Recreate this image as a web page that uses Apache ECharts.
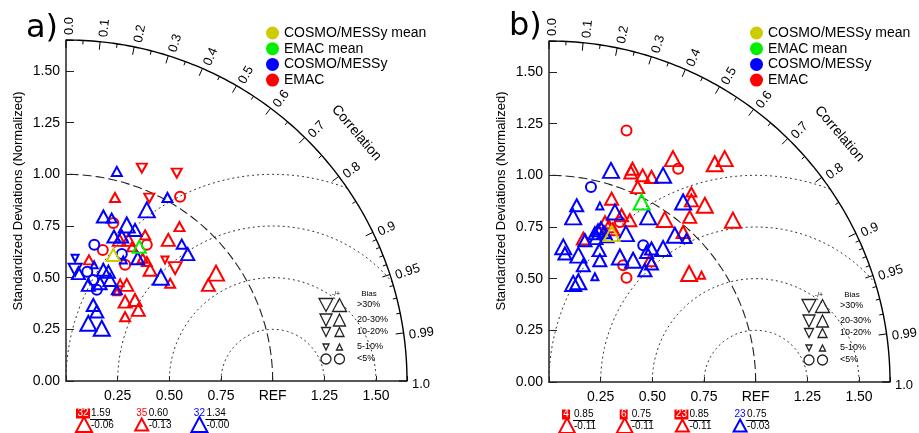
<!DOCTYPE html>
<html>
<head>
<meta charset="utf-8">
<script src="https://cdn.jsdelivr.net/npm/echarts@6/dist/echarts.min.js"></script>
<style>
  html, body { margin: 0; background: #fff; }
  #main { width: 919px; height: 433px; }
</style>
</head>
<body>
<div id="main"></div>
<script>
// Taylor diagram frame
var STD_MAX = 1.65;
var CORR_MAJOR = [0, 0.1, 0.2, 0.3, 0.4, 0.5, 0.6, 0.7, 0.8, 0.9, 0.95, 0.99, 1.0];
var CORR_MINOR = [0.05, 0.15, 0.25, 0.35, 0.45, 0.55, 0.65, 0.75, 0.85, 0.91, 0.92, 0.93, 0.94, 0.96, 0.97, 0.98];
var RMS_RADII = [0.25, 0.5, 0.75, 1.0];
var LEGEND_NAMES = ['COSMO/MESSy mean', 'EMAC mean', 'COSMO/MESSy', 'EMAC'];
var BIAS_LABELS = ['>30%', '20-30%', '10-20%', '5-10%', '<5%'];

// points: [std*cor, std*sin, bias class]  (sign = direction, 1..4 = 5-10% .. >30%, 0 = <5%)
var emacA = [
  [0.367, 1.030, -2], [0.536, 1.006, -2], [0.237, 0.888, 2], [0.403, 0.885, -2], [0.552, 0.891, 0],
  [0.229, 0.764, 0], [0.549, 0.747, 2], [0.383, 0.707, 2], [0.258, 0.683, 3], [0.302, 0.683, 3],
  [0.495, 0.683, 3], [0.178, 0.634, 0], [0.391, 0.659, 0], [0.320, 0.649, 2], [0.286, 0.562, 0],
  [0.111, 0.586, 2], [0.371, 0.594, 2], [0.479, 0.586, -1], [0.528, 0.546, -3], [0.407, 0.538, 3],
  [0.504, 0.473, 2], [0.726, 0.522, 4], [0.689, 0.465, 3], [0.262, 0.475, 1], [0.294, 0.465, 3],
  [0.246, 0.432, 1], [0.286, 0.384, 3], [0.334, 0.392, 3], [0.350, 0.344, 3], [0.286, 0.311, 2],
  [0.391, 0.578, 2]
];
var cosmoA = [
  [0.246, 1.014, 2], [0.491, 0.888, 2], [0.391, 0.828, 4], [0.181, 0.796, 3], [0.221, 0.788, 2],
  [0.294, 0.755, 4], [0.334, 0.731, 3], [0.232, 0.699, 3], [0.270, 0.699, 3], [0.137, 0.659, 0],
  [0.270, 0.614, 0], [0.277, 0.586, 1], [0.347, 0.594, 3], [0.560, 0.662, 2], [0.589, 0.614, 3],
  [0.044, 0.594, -1], [0.044, 0.538, -3], [0.060, 0.522, 3], [0.103, 0.529, 0], [0.136, 0.562, 1],
  [0.181, 0.538, 3], [0.205, 0.529, 3], [0.108, 0.465, 3], [0.132, 0.489, 0], [0.149, 0.441, 0],
  [0.165, 0.473, 3], [0.213, 0.489, 3], [0.246, 0.441, 2], [0.459, 0.502, 4], [0.132, 0.368, 3],
  [0.149, 0.336, 3], [0.108, 0.279, 4], [0.173, 0.255, 4]
];
var cosmoMeanA = [[0.229, 0.610, 3]];
var emacMeanA = [[0.355, 0.650, 3]];

var emacB = [
  [0.375, 1.217, 0], [0.404, 1.032, 3], [0.396, 1.014, 3], [0.453, 1.000, 3], [0.496, 0.992, 3],
  [0.600, 1.081, 4], [0.625, 1.032, 0], [0.802, 1.056, 4], [0.850, 1.081, 4], [0.429, 0.943, 3],
  [0.303, 0.887, 3], [0.689, 0.919, 2], [0.689, 0.879, 3], [0.754, 0.855, 4], [0.351, 0.807, 3],
  [0.391, 0.783, 3], [0.560, 0.786, 4], [0.681, 0.799, 3], [0.890, 0.783, 4], [0.271, 0.773, 3],
  [0.290, 0.754, 3], [0.309, 0.739, 3], [0.166, 0.694, 3], [0.649, 0.726, 3], [0.488, 0.589, 3],
  [0.359, 0.565, 0], [0.375, 0.504, 0], [0.678, 0.525, 4], [0.738, 0.517, 1], [0.343, 0.774, 0]
];
var cosmoB = [
  [0.300, 1.024, 4], [0.552, 1.000, 4], [0.203, 0.943, 0], [0.134, 0.855, 3], [0.246, 0.852, 1],
  [0.319, 0.823, 4], [0.649, 0.871, 4], [0.117, 0.799, 4], [0.480, 0.799, 4], [0.222, 0.720, 3],
  [0.237, 0.734, 3], [0.251, 0.744, 3], [0.266, 0.725, 3], [0.280, 0.705, 3], [0.227, 0.696, 3],
  [0.174, 0.686, 3], [0.372, 0.718, 4], [0.609, 0.710, 4], [0.665, 0.694, 2], [0.069, 0.654, 4],
  [0.077, 0.622, 3], [0.142, 0.614, 4], [0.243, 0.638, 3], [0.246, 0.589, 3], [0.343, 0.605, 4],
  [0.407, 0.589, 4], [0.456, 0.662, 0], [0.472, 0.629, 3], [0.496, 0.646, 3], [0.552, 0.646, 4],
  [0.496, 0.573, 3], [0.464, 0.541, 3], [0.166, 0.565, 3], [0.222, 0.509, 1], [0.117, 0.477, 4],
  [0.142, 0.485, 4]
];
var cosmoMeanB = [[0.303, 0.718, 4]];
var emacMeanB = [[0.448, 0.871, 4]];

// points off the diagram: [case, boxed, model, std, cor, bias class]
var outA = [['32', true, 'EMAC', '1.59', '-0.06', 4], ['35', false, 'EMAC', '0.60', '-0.13', 3], ['32', false, 'COSMO/MESSy', '1.34', '-0.00', 4]];
var outB = [['4', true, 'EMAC', '0.85', '-0.11', 4], ['6', true, 'EMAC', '0.75', '-0.11', 4], ['23', true, 'EMAC', '0.85', '-0.11', 3], ['23', false, 'COSMO/MESSy', '0.75', '-0.03', 3]];

var COLORS = {'COSMO/MESSy mean': '#cccc00', 'EMAC mean': '#00ee00', 'COSMO/MESSy': '#0000ff', 'EMAC': '#ff0000'};
var SIZES = {1: [7, 7], 2: [10, 9], 3: [13, 12], 4: [16, 15]};
var FONT = 'Liberation Sans';

var chart = echarts.init(document.getElementById('main'));

function item(p) {
  var m = Math.abs(p[2]);
  return {
    value: [p[0], p[1]],
    symbol: m === 0 ? 'circle' : 'triangle',
    symbolSize: m === 0 ? 10 : SIZES[m],
    symbolRotate: p[2] < 0 ? 180 : 0
  };
}

function scatter(name, data, gi) {
  return {
    type: 'scatter', name: name, xAxisIndex: gi, yAxisIndex: gi, z: 3,
    data: data.map(item),
    itemStyle: {color: 'rgba(0,0,0,0)', borderColor: COLORS[name], borderWidth: 2, opacity: 1},
    emphasis: {disabled: true}
  };
}

function triPts(cx, cy, w, h, down) {
  if (down) return [[cx - w / 2, cy - h / 2], [cx + w / 2, cy - h / 2], [cx, cy + h / 2]];
  return [[cx, cy - h / 2], [cx + w / 2, cy + h / 2], [cx - w / 2, cy + h / 2]];
}

function frame(gi, outliers) {
  return {
    type: 'custom', xAxisIndex: gi, yAxisIndex: gi, data: [[0, 0]], clip: false, silent: true, z: 1,
    renderItem: function (params, api) {
      var O = api.coord([0, 0]);
      var unit = api.coord([1, 0])[0] - O[0];
      var R = STD_MAX * unit;
      var kids = [];

      function arc(cx, r, a0, a1) {
        var p = [];
        for (var i = 0; i <= 120; i++) {
          var a = a0 + (a1 - a0) * i / 120;
          p.push(api.coord([cx + r * Math.cos(a), r * Math.sin(a)]));
        }
        return p;
      }
      function poly(points, width, dash, color) {
        kids.push({type: 'polyline', shape: {points: points},
          style: {stroke: color || '#000', fill: null, lineWidth: width, lineDash: dash || null}});
      }
      function text(str, x, y, size, opt) {
        opt = opt || {};
        kids.push({type: 'text', x: x, y: y, rotation: opt.rot || 0,
          style: {text: str, fill: opt.color || '#000', font: (opt.weight || 'normal') + ' ' + size + 'px ' + FONT,
            align: opt.align || 'left', verticalAlign: opt.va || 'middle'}});
      }

      // rms circles round REF
      RMS_RADII.forEach(function (rho) {
        var c = (STD_MAX * STD_MAX - 1 - rho * rho) / (2 * rho);
        var a0 = c >= 1 ? 0 : Math.acos(c);
        poly(arc(1, rho, a0, Math.PI), 1, [2, 3], '#333');
      });
      // std = 1
      poly(arc(0, 1, 0, Math.PI / 2), 1.1, [9, 4], '#222');
      // outer correlation arc
      poly(arc(0, STD_MAX, 0, Math.PI / 2), 1.4, null, '#000');

      CORR_MAJOR.concat(CORR_MINOR).forEach(function (c, i) {
        var t = Math.acos(c), len = i < CORR_MAJOR.length ? 8 : 4;
        var ux = Math.cos(t), uy = -Math.sin(t);
        kids.push({type: 'line', shape: {x1: O[0] + R * ux, y1: O[1] + R * uy, x2: O[0] + (R - len) * ux, y2: O[1] + (R - len) * uy},
          style: {stroke: '#000', lineWidth: 1}});
      });
      CORR_MAJOR.forEach(function (c) {
        var t = Math.acos(c), ux = Math.cos(t), uy = -Math.sin(t);
        var lbl = c === 0 ? '0.0' : (c === 1 ? '1.0' : String(c));
        text(lbl, O[0] + (R + 5) * ux + 3 * Math.sin(t), O[1] + (R + 5) * uy + 3 * Math.cos(t), 13, {rot: t});
      });
      var tc = 40.5 * Math.PI / 180;
      text('Correlation', O[0] + 1.848 * unit * Math.cos(tc), O[1] - 1.848 * unit * Math.sin(tc), 14,
        {rot: tc - Math.PI / 2, align: 'center'});

      // bias key
      text('-/+', O[0] + 270, O[1] - 87, 7, {align: 'center'});
      text('Bias', O[0] + 303, O[1] - 87, 8, {align: 'center'});
      var rowY = [-76, -61, -49, -34, -22], keySize = [[14, 13], [12, 12], [9, 9], [6, 6]];
      rowY.forEach(function (dy, k) {
        var y = O[1] + dy;
        if (k < 4) {
          kids.push({type: 'polygon', shape: {points: triPts(O[0] + 260, y, keySize[k][0], keySize[k][1], true)},
            style: {fill: 'none', stroke: '#222', lineWidth: 1.3}});
          kids.push({type: 'polygon', shape: {points: triPts(O[0] + 273.5, y, keySize[k][0], keySize[k][1], false)},
            style: {fill: 'none', stroke: '#222', lineWidth: 1.3}});
        } else {
          kids.push({type: 'circle', shape: {cx: O[0] + 260, cy: y, r: 5}, style: {fill: 'none', stroke: '#222', lineWidth: 1.3}});
          kids.push({type: 'circle', shape: {cx: O[0] + 273.5, cy: y, r: 5}, style: {fill: 'none', stroke: '#222', lineWidth: 1.3}});
        }
        text(BIAS_LABELS[k], O[0] + 291, y, 9);
      });

      // cases outside the diagram
      outliers.forEach(function (o, i) {
        var tx = O[0] + 18 + 57.7 * i, col = COLORS[o[2]], sz = SIZES[o[5]];
        if (o[1]) {
          var w = o[0].length * 6 + 2;
          kids.push({type: 'rect', shape: {x: tx - 1 - w / 2, y: O[1] + 27.5, width: w, height: 10}, style: {fill: col}});
          text(o[0], tx - 1, O[1] + 32.5, 10, {align: 'center', color: '#fff'});
        } else {
          text(o[0], tx, O[1] + 32.5, 10, {align: 'center', color: col});
        }
        text(o[3], tx + 7, O[1] + 32.5, 10);
        kids.push({type: 'line', shape: {x1: tx + 6, y1: O[1] + 38.5, x2: tx + 28, y2: O[1] + 38.5}, style: {stroke: '#000', lineWidth: 1}});
        text(o[4], tx + 7, O[1] + 44, 10);
        kids.push({type: 'polygon', shape: {points: triPts(tx, O[1] + 43.5, sz[0], sz[1], false)},
          style: {fill: 'none', stroke: col, lineWidth: 2}});
      });

      return {type: 'group', children: kids};
    }
  };
}

function xAxisFor(gi) {
  return {
    gridIndex: gi, type: 'value', min: 0, max: STD_MAX, interval: 0.25,
    axisLine: {show: true, lineStyle: {color: '#222', width: 1.5}},
    axisTick: {show: true, inside: true, length: 5, lineStyle: {color: '#222'}},
    splitLine: {show: false},
    axisLabel: {
      color: '#000', fontSize: 14, fontFamily: FONT, margin: 8,
      formatter: function (v) { return v === 0 || v > 1.6 ? '' : (v === 1 ? 'REF' : v.toFixed(2)); }
    }
  };
}
function yAxisFor(gi) {
  return {
    gridIndex: gi, type: 'value', min: 0, max: STD_MAX, interval: 0.25,
    axisLine: {show: true, lineStyle: {color: '#222', width: 1.5}},
    axisTick: {show: true, inside: true, length: 8, lineStyle: {color: '#222'}},
    splitLine: {show: false},
    axisLabel: {
      color: '#000', fontSize: 14, fontFamily: FONT, margin: 6,
      formatter: function (v) { return v > 1.6 ? '' : v.toFixed(2); }
    }
  };
}
function legendFor(left) {
  return {
    left: left, top: 26, orient: 'vertical', padding: 0, itemGap: 1.7, itemWidth: 13, itemHeight: 13,
    selectedMode: false, icon: 'circle',
    textStyle: {color: '#000', fontSize: 14, fontFamily: FONT, lineHeight: 14},
    data: LEGEND_NAMES.map(function (n) {
      return {name: n, icon: 'circle', itemStyle: {color: COLORS[n], borderWidth: 0}};
    })
  };
}

var option = {
  animation: false,
  backgroundColor: '#fff',
  grid: [
    {left: 66, top: 40, width: 341, height: 341},
    {left: 549, top: 41, width: 341, height: 341}
  ],
  xAxis: [xAxisFor(0), xAxisFor(1)],
  yAxis: [yAxisFor(0), yAxisFor(1)],
  legend: [legendFor(266), legendFor(750)],
  graphic: [
    {type: 'text', left: 26, top: 13, style: {text: 'a)', font: '32px DejaVu Sans', fill: '#000'}},
    {type: 'text', left: 509, top: 11, style: {text: 'b)', font: '32px DejaVu Sans', fill: '#000'}},
    {type: 'text', x: 18, y: 201, rotation: Math.PI / 2,
      style: {text: 'Standardized Deviations (Normalized)', font: '13px ' + FONT, fill: '#000', align: 'center', verticalAlign: 'middle'}},
    {type: 'text', x: 501, y: 201, rotation: Math.PI / 2,
      style: {text: 'Standardized Deviations (Normalized)', font: '13px ' + FONT, fill: '#000', align: 'center', verticalAlign: 'middle'}}
  ],
  series: [
    frame(0, outA), frame(1, outB),
    scatter('EMAC', emacA, 0), scatter('COSMO/MESSy', cosmoA, 0),
    scatter('COSMO/MESSy mean', cosmoMeanA, 0), scatter('EMAC mean', emacMeanA, 0),
    scatter('EMAC', emacB, 1), scatter('COSMO/MESSy', cosmoB, 1),
    scatter('COSMO/MESSy mean', cosmoMeanB, 1), scatter('EMAC mean', emacMeanB, 1)
  ]
};

chart.setOption(option);
</script>
</body>
</html>
